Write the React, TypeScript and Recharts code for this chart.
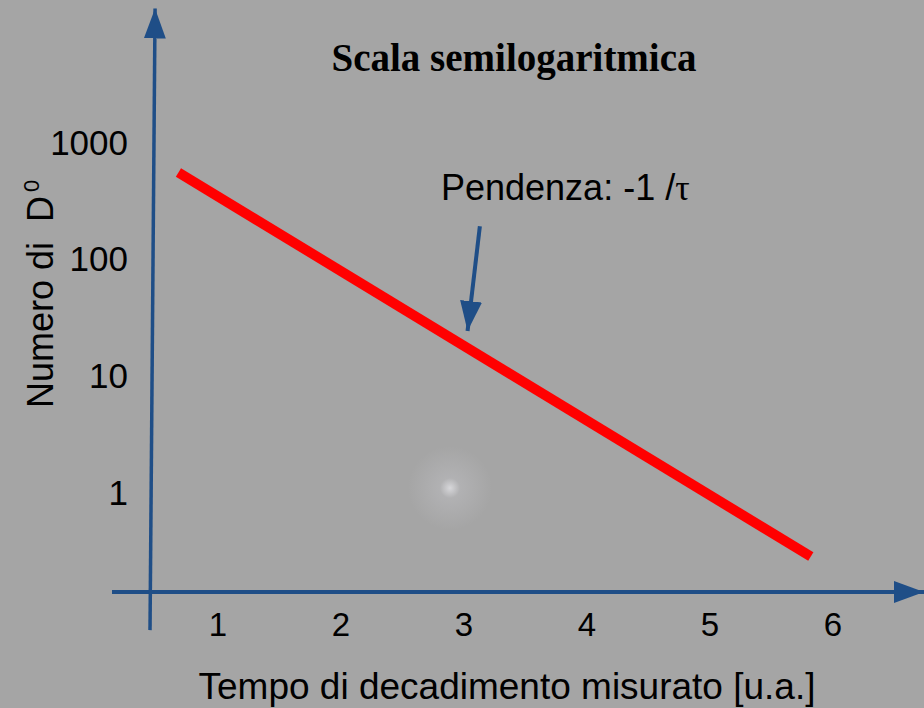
import { ComposedChart, Line, XAxis, YAxis, ReferenceLine } from "recharts"

const tempi = [0.68, 5.82]
const numeri = [550, 0.28]
const xTicks = [1, 2, 3, 4, 5, 6]
const yTicks = [1, 10, 100, 1000]
const xDomain = [0.14, 6.74]
const yDomain = [0.139, 15000]

// assi disegnati come frecce
const asseY = [
  { x: 0.449, y: 0.0655 },
  { x: 0.49, y: 14000 },
]
const frecciaPendenza = [
  { x: 3.13, y: 190 },
  { x: 3.03, y: 24 },
]

const data = tempi.map((t, i) => ({ t, n: numeri[i] }))

const BLUE = "#1F4E87"
const SANS = "'Liberation Sans', Arial, sans-serif"

export default function App() {
  return (
    <div
      style={{
        width: 924,
        height: 708,
        background:
          "radial-gradient(circle at 450px 488px, rgba(232,232,236,0.75) 0px, rgba(200,200,205,0.35) 10px, rgba(165,165,165,0) 42px), #a5a5a5",
      }}
    >
      <style>{"body{margin:0}"}</style>
      <ComposedChart
        width={924}
        height={708}
        data={data}
        margin={{ top: 5, right: 0, bottom: 86, left: 0 }}
      >
        <defs>
          <marker
            id="arrowHead"
            viewBox="0 0 30 22"
            refX={30}
            refY={11}
            markerWidth={30}
            markerHeight={22}
            markerUnits="userSpaceOnUse"
            orient="auto"
          >
            <path d="M0,0 L30,11 L0,22 z" fill={BLUE} />
          </marker>
        </defs>
        <XAxis
          dataKey="t"
          type="number"
          domain={xDomain}
          allowDataOverflow
          ticks={xTicks}
          height={30}
          tickLine={false}
          axisLine={{ stroke: BLUE, strokeWidth: 4, markerEnd: "url(#arrowHead)" }}
          tick={(p: any) => (
            <text
              x={p.x}
              y={636}
              textAnchor="middle"
              fontSize={33}
              fontFamily={SANS}
              fill="#000"
            >
              {p.payload.value}
            </text>
          )}
        />
        <YAxis
          type="number"
          scale="log"
          domain={yDomain}
          allowDataOverflow
          ticks={yTicks}
          width={112}
          tickLine={false}
          axisLine={false}
          tick={(p: any) => (
            <text
              x={128}
              y={p.y}
              dy="0.36em"
              textAnchor="end"
              fontSize={35}
              fontFamily={SANS}
              fill="#000"
            >
              {p.payload.value}
            </text>
          )}
        />
        <ReferenceLine
          segment={asseY}
          ifOverflow="visible"
          stroke={BLUE}
          strokeWidth={3.5}
          markerEnd="url(#arrowHead)"
        />
        <ReferenceLine
          segment={frecciaPendenza}
          ifOverflow="visible"
          stroke={BLUE}
          strokeWidth={4}
          markerEnd="url(#arrowHead)"
        />
        <Line
          dataKey="n"
          type="linear"
          stroke="#FF0000"
          strokeWidth={10}
          dot={false}
          activeDot={false}
          isAnimationActive={false}
        />
        <text
          x={514}
          y={71}
          textAnchor="middle"
          fontSize={39}
          fontWeight="bold"
          fontFamily="'Liberation Serif', 'Times New Roman', serif"
          fill="#000"
        >
          Scala semilogaritmica
        </text>
        <text x={441} y={200} fontSize={36} fontFamily={SANS} fill="#000">
          Pendenza: -1 /
          <tspan fontFamily="'Liberation Serif', serif">τ</tspan>
        </text>
        <text
          x={53}
          y={408}
          transform="rotate(-90 53 408)"
          fontSize={36}
          fontFamily={SANS}
          fill="#000"
          style={{ whiteSpace: "pre" }}
        >
          Numero di  D
          <tspan dx={4} dy={-14} fontSize={22}>
            0
          </tspan>
        </text>
        <text
          x={507}
          y={699}
          textAnchor="middle"
          fontSize={37}
          fontFamily={SANS}
          fill="#000"
        >
          Tempo di decadimento misurato [u.a.]
        </text>
      </ComposedChart>
    </div>
  )
}
